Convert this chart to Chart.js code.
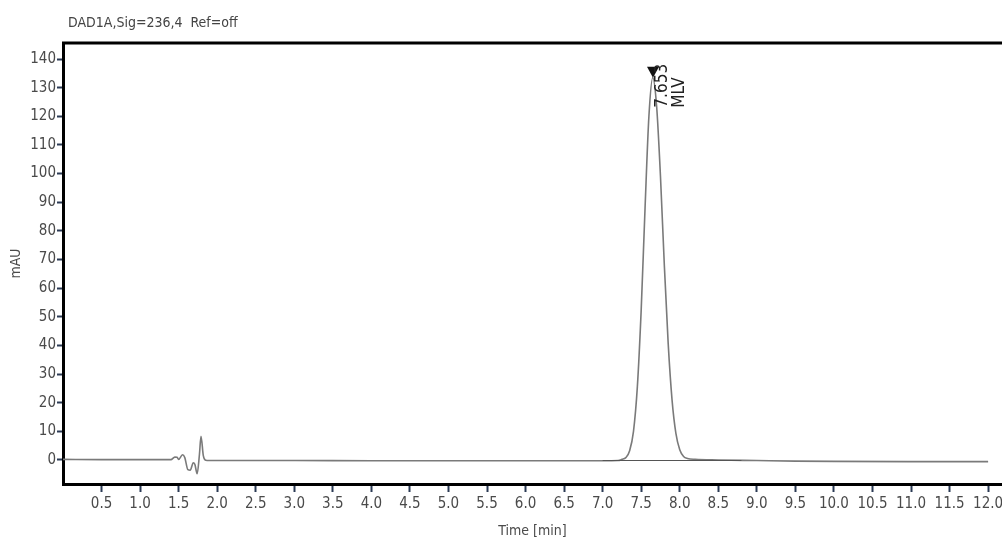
<!DOCTYPE html>
<html>
<head>
<meta charset="utf-8">
<script src="https://cdn.jsdelivr.net/npm/chart.js@4.4.1/dist/chart.umd.min.js"></script>
<style>
    body { margin: 0; background: #fff; }
    #wrap { width: 1002px; height: 543px; }
</style>
</head>
<body>
<div id="wrap"><canvas id="chromChart" width="1002" height="543"></canvas></div>
<script>
const signalTimes = [
    0.0, 0.5, 1.0, 1.4, 1.45, 1.48, 1.5, 1.55, 1.58, 1.62, 1.65, 1.69, 1.71, 1.74, 1.77, 1.79, 1.82, 1.85, 1.9,
    2.5, 3.0, 4.0, 5.0, 6.0, 6.5, 7.0, 7.2,
    7.25, 7.3, 7.35, 7.4, 7.45, 7.5, 7.55, 7.6, 7.65, 7.7, 7.75, 7.8, 7.85, 7.9, 7.95, 8.0, 8.05, 8.1, 8.2,
    8.5, 9.0, 9.5, 10.0, 11.0, 12.0
];
const signalValues = [
    0.2, 0.1, 0.1, 0.1, 1.0, 0.9, 0.2, 1.8, 0.8, -3.4, -3.6, -1.0, -1.5, -4.8, 2.0, 8.3, 1.5, -0.1, -0.2,
    -0.2, -0.2, -0.3, -0.3, -0.3, -0.3, -0.3, -0.2,
    0.2, 0.8, 3.2, 10, 25.5, 52.5, 88, 120, 133.5, 123.5, 99, 68, 40.7, 21, 9.3, 3.6, 1.2, 0.5, 0.2,
    0.0, -0.2, -0.4, -0.5, -0.6, -0.6
];
const baselineTimes = [7.0, 8.8];
const baselineValues = [-0.2, -0.2];

const xTicks = [0.5, 1.0, 1.5, 2.0, 2.5, 3.0, 3.5, 4.0, 4.5, 5.0, 5.5, 6.0, 6.5, 7.0, 7.5, 8.0, 8.5, 9.0, 9.5, 10.0, 10.5, 11.0, 11.5, 12.0];
const yTicks = [0, 10, 20, 30, 40, 50, 60, 70, 80, 90, 100, 110, 120, 130, 140];

const peakTime = 7.653;
const peakHeight = 133.5;
const peakLabels = ['7.653', 'MLV'];
const signalTitle = 'DAD1A,Sig=236,4  Ref=off';

const narrowFont = "'Liberation Sans Narrow', 'DejaVu Sans Condensed', sans-serif";

const frameAndLabels = {
    id: 'frameAndLabels',
    afterDraw(chart) {
        const ctx = chart.ctx;
        const area = chart.chartArea;
        const xs = chart.scales.x;
        const ys = chart.scales.y;
        ctx.save();

        // top frame line
        ctx.strokeStyle = '#000';
        ctx.lineWidth = 3;
        ctx.beginPath();
        ctx.moveTo(area.left - 1, area.top);
        ctx.lineTo(area.right, area.top);
        ctx.stroke();

        // signal title
        ctx.fillStyle = '#444';
        ctx.font = '14px ' + narrowFont;
        ctx.textAlign = 'left';
        ctx.textBaseline = 'middle';
        ctx.fillText(signalTitle, 68, 23);

        // peak marker
        const px = xs.getPixelForValue(peakTime);
        const py = ys.getPixelForValue(peakHeight);
        ctx.fillStyle = '#111';
        ctx.beginPath();
        ctx.moveTo(px, py);
        ctx.lineTo(px - 6, py - 11);
        ctx.lineTo(px + 6, py - 11);
        ctx.closePath();
        ctx.fill();

        // rotated peak labels
        ctx.fillStyle = '#222';
        ctx.font = '17px ' + narrowFont;
        ctx.textAlign = 'left';
        ctx.textBaseline = 'middle';
        peakLabels.forEach((txt, i) => {
            ctx.save();
            ctx.translate(px + 10 + i * 17, py + 30);
            ctx.rotate(-Math.PI / 2);
            ctx.fillText(txt, 0, 0);
            ctx.restore();
        });
        ctx.restore();
    }
};

const ctx = document.getElementById('chromChart').getContext('2d');
new Chart(ctx, {
    type: 'line',
    data: {
        datasets: [
            {
                label: 'baseline',
                data: baselineTimes.map((t, i) => ({ x: t, y: baselineValues[i] })),
                borderColor: '#555',
                borderWidth: 1.2,
                pointRadius: 0,
                fill: false
            },
            {
                label: 'DAD1A',
                data: signalTimes.map((t, i) => ({ x: t, y: signalValues[i] })),
                borderColor: '#7a7a7a',
                borderWidth: 1.6,
                pointRadius: 0,
                cubicInterpolationMode: 'monotone',
                fill: false
            }
        ]
    },
    options: {
        responsive: false,
        animation: false,
        devicePixelRatio: 1,
        layout: { padding: { top: 43, right: 0, left: 0, bottom: 0 } },
        plugins: {
            legend: { display: false },
            title: { display: false },
            tooltip: { enabled: false }
        },
        scales: {
            x: {
                type: 'linear',
                min: 0,
                max: 12.18,
                afterBuildTicks: scale => { scale.ticks = xTicks.map(v => ({ value: v })); },
                afterFit: scale => {
                    scale.height = 59;
                    scale.paddingLeft = 0;
                    scale.paddingRight = 0;
                },
                ticks: {
                    autoSkip: false,
                    maxRotation: 0,
                    padding: 3,
                    color: '#4a4a4a',
                    font: { family: narrowFont, size: 15 },
                    callback: v => v.toFixed(1)
                },
                grid: {
                    display: true,
                    drawOnChartArea: false,
                    drawTicks: true,
                    tickLength: 8,
                    tickWidth: 2,
                    tickColor: '#2b3a55'
                },
                border: { display: true, color: '#000', width: 3 },
                title: {
                    display: true,
                    text: 'Time [min]',
                    color: '#4a4a4a',
                    font: { family: narrowFont, size: 14 },
                    padding: { top: 0, bottom: 3 }
                }
            },
            y: {
                min: -8.4,
                max: 145.6,
                afterBuildTicks: scale => { scale.ticks = yTicks.map(v => ({ value: v })); },
                afterFit: scale => {
                    scale.width = 63;
                    scale.paddingTop = 0;
                    scale.paddingBottom = 0;
                },
                ticks: {
                    autoSkip: false,
                    padding: 1,
                    color: '#4a4a4a',
                    font: { family: narrowFont, size: 15 }
                },
                grid: {
                    display: true,
                    drawOnChartArea: false,
                    drawTicks: true,
                    tickLength: 6,
                    tickWidth: 2,
                    tickColor: '#2b3a55'
                },
                border: { display: true, color: '#000', width: 3 },
                title: {
                    display: true,
                    text: 'mAU',
                    color: '#4a4a4a',
                    font: { family: narrowFont, size: 14 },
                    padding: { top: 8, bottom: 0 }
                }
            }
        }
    },
    plugins: [frameAndLabels]
});
</script>
</body>
</html>
